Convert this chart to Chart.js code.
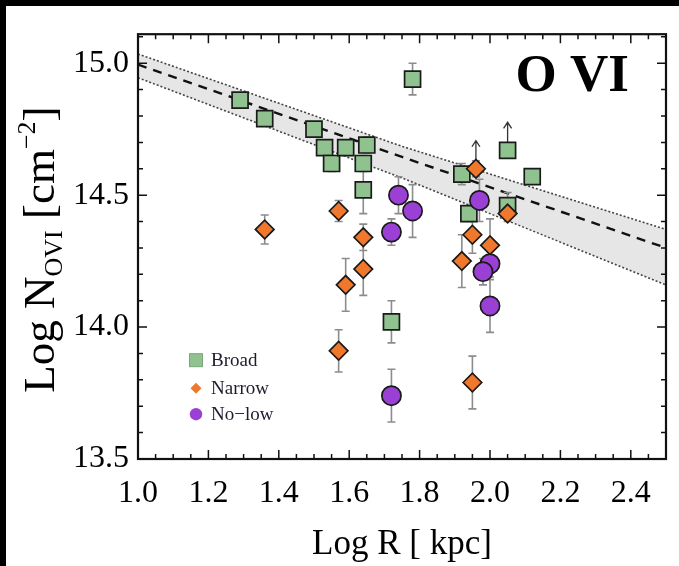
<!DOCTYPE html>
<html>
<head>
<meta charset="utf-8">
<script src="https://cdn.jsdelivr.net/npm/chart.js@4.4.0/dist/chart.umd.min.js"></script>
<style>
  html, body { margin: 0; padding: 0; background: #000; overflow: hidden; }
  #wrap { position: absolute; left: 6px; top: 6px; width: 673px; height: 560px; background: #fff; }
</style>
</head>
<body>
<div id="wrap"><canvas id="ovi" width="673" height="560"></canvas></div>
<script>
// values (Log R in kpc, Log N in cm^-2)
var broadR   = [1.29, 1.36, 1.50, 1.53, 1.55, 1.59, 1.65, 1.64, 1.64, 1.72, 1.78, 1.92, 1.94, 2.05, 2.12, 2.05];
var broadN   = [14.86, 14.79, 14.75, 14.68, 14.62, 14.68, 14.69, 14.62, 14.52, 14.02, 14.94, 14.58, 14.43, 14.67, 14.57, 14.46];
var broadErr = [0.02, 0.02, 0.02, 0.02, 0.03, 0.03, 0.03, 0.03, 0.09, 0.08, 0.06, 0.04, 0.03, 0, 0.02, 0.05];
var broadLim = [false, false, false, false, false, false, false, false, false, false, false, false, false, true, false, false];

var narrowR   = [1.36, 1.57, 1.64, 1.64, 1.59, 1.57, 1.96, 1.95, 1.92, 2.00, 2.05, 1.95];
var narrowN   = [14.37, 14.44, 14.34, 14.22, 14.16, 13.91, 14.60, 14.35, 14.25, 14.31, 14.43, 13.79];
var narrowErr = [0.055, 0.04, 0.05, 0.1, 0.1, 0.08, 0.03, 0.07, 0.1, 0.1, 0.03, 0.1];
var narrowLim = [false, false, false, false, false, false, true, false, false, false, false, false];

var nolowR   = [1.74, 1.78, 1.72, 1.72, 1.97, 2.00, 1.98, 2.00];
var nolowN   = [14.50, 14.44, 14.36, 13.74, 14.48, 14.24, 14.21, 14.08];
var nolowErr = [0.07, 0.1, 0.05, 0.1, 0.08, 0.05, 0.05, 0.1];

// best fit and its band
var fitR   = [1.0, 1.75, 2.5];
var fitN   = [14.995, 14.645, 14.30];
var bandHi = [15.035, 14.685, 14.37];
var bandLo = [14.945, 14.565, 14.16];

var xTicks = [1.0, 1.2, 1.4, 1.6, 1.8, 2.0, 2.2, 2.4];
var yTicks = [13.5, 14.0, 14.5, 15.0];

var legendNames = ['Broad', 'Narrow', 'No\u2212low'];

var green = '#8fc28f', orange = '#f0782d', purple = '#9b40d4';
var serif = '"Liberation Serif", "Times New Roman", serif';

function pts(xs, ys) {
  return xs.map(function (x, i) { return { x: x, y: ys[i] }; });
}

var extras = {
  id: 'extras',
  beforeDatasetDraw: function (chart, args) {
    if (args.index !== 3) return;
    var ctx = chart.ctx, sx = chart.scales.x, sy = chart.scales.y;
    ctx.save();
    ctx.strokeStyle = '#8c8c8c';
    ctx.lineWidth = 1.6;
    [[broadR, broadN, broadErr], [narrowR, narrowN, narrowErr], [nolowR, nolowN, nolowErr]].forEach(function (s) {
      s[0].forEach(function (r, i) {
        if (!s[2][i]) return;
        var px = sx.getPixelForValue(r);
        var y1 = sy.getPixelForValue(s[1][i] - s[2][i]);
        var y2 = sy.getPixelForValue(s[1][i] + s[2][i]);
        ctx.beginPath();
        ctx.moveTo(px, y1); ctx.lineTo(px, y2);
        ctx.moveTo(px - 4, y1); ctx.lineTo(px + 4, y1);
        ctx.moveTo(px - 4, y2); ctx.lineTo(px + 4, y2);
        ctx.stroke();
      });
    });
    // lower limits
    ctx.strokeStyle = '#333';
    ctx.lineWidth = 1.3;
    [[broadR, broadN, broadLim], [narrowR, narrowN, narrowLim]].forEach(function (s) {
      s[0].forEach(function (r, i) {
        if (!s[2][i]) return;
        var px = sx.getPixelForValue(r);
        var py = sy.getPixelForValue(s[1][i]);
        ctx.beginPath();
        ctx.moveTo(px, py); ctx.lineTo(px, py - 28);
        ctx.moveTo(px - 4, py - 22); ctx.lineTo(px, py - 28); ctx.lineTo(px + 4, py - 22);
        ctx.stroke();
      });
    });
    ctx.restore();
  },
  afterDraw: function (chart) {
    var ctx = chart.ctx, a = chart.chartArea, sx = chart.scales.x, sy = chart.scales.y;
    ctx.save();
    // frame with inward ticks on all sides
    ctx.strokeStyle = '#111';
    ctx.lineWidth = 1.5;
    ctx.beginPath();
    for (var k = 0; k <= 30; k++) {
      var px = sx.getPixelForValue(1.0 + k * 0.05);
      var len = (k % 4 === 0) ? 9 : 5;
      ctx.moveTo(px, a.bottom); ctx.lineTo(px, a.bottom - len);
      ctx.moveTo(px, a.top); ctx.lineTo(px, a.top + len);
    }
    for (var j = 0; j <= 16; j++) {
      var py = sy.getPixelForValue(13.5 + j * 0.1);
      var l2 = (j % 5 === 0) ? 9 : 5;
      ctx.moveTo(a.left, py); ctx.lineTo(a.left + l2, py);
      ctx.moveTo(a.right, py); ctx.lineTo(a.right - l2, py);
    }
    ctx.stroke();
    ctx.lineWidth = 2.2;
    ctx.strokeRect(a.left, a.top, a.right - a.left, a.bottom - a.top);

    // ion label
    ctx.fillStyle = '#000';
    ctx.font = 'bold 53px ' + serif;
    ctx.textAlign = 'right';
    ctx.textBaseline = 'alphabetic';
    ctx.fillText('O VI', a.right - 37, a.top + 57);

    // legend
    var lx = a.left + 58, ly = [a.top + 326, a.top + 354, a.top + 380];
    ctx.fillStyle = green;
    ctx.fillRect(lx - 6.5, ly[0] - 6.5, 13, 13);
    ctx.strokeStyle = '#7aa87a'; ctx.lineWidth = 1;
    ctx.strokeRect(lx - 6.5, ly[0] - 6.5, 13, 13);
    ctx.fillStyle = orange;
    ctx.beginPath();
    ctx.moveTo(lx - 5.5, ly[1]); ctx.lineTo(lx, ly[1] - 5.5); ctx.lineTo(lx + 5.5, ly[1]); ctx.lineTo(lx, ly[1] + 5.5);
    ctx.closePath(); ctx.fill();
    ctx.fillStyle = purple;
    ctx.beginPath(); ctx.arc(lx, ly[2], 6.2, 0, Math.PI * 2); ctx.fill();
    ctx.fillStyle = '#1c1c2c';
    ctx.font = '19px "Liberation Serif", serif';
    ctx.textAlign = 'left';
    ctx.textBaseline = 'middle';
    legendNames.forEach(function (t, i) { ctx.fillText(t, lx + 15, ly[i] + 1); });

    // y title with subscript and superscript
    var parts = [
      { t: 'Log N', s: 45, dy: 0 },
      { t: 'OVI', s: 26, dy: 8 },
      { t: ' [cm', s: 45, dy: 0 },
      { t: '\u22122', s: 26, dy: -19 },
      { t: ']', s: 45, dy: 0 }
    ];
    var total = 0;
    parts.forEach(function (p) { ctx.font = p.s + 'px ' + serif; p.w = ctx.measureText(p.t).width; total += p.w; });
    ctx.translate(48, (a.top + a.bottom) / 2 + 3);
    ctx.rotate(-Math.PI / 2);
    ctx.fillStyle = '#000';
    ctx.textAlign = 'left';
    ctx.textBaseline = 'alphabetic';
    var cx = -total / 2;
    parts.forEach(function (p) {
      ctx.font = p.s + 'px ' + serif;
      ctx.fillText(p.t, cx, p.dy);
      cx += p.w;
    });
    ctx.restore();
  }
};

var ctx = document.getElementById('ovi').getContext('2d');
var oviChart = new Chart(ctx, {
  type: 'scatter',
  data: {
    datasets: [
      {
        label: 'band high',
        data: pts(fitR, bandHi),
        showLine: true,
        pointRadius: 0,
        borderColor: '#444',
        borderWidth: 1.6,
        borderDash: [2, 2],
        backgroundColor: '#e6e6e6',
        fill: '+1',
        order: 6
      },
      {
        label: 'band low',
        data: pts(fitR, bandLo),
        showLine: true,
        pointRadius: 0,
        borderColor: '#444',
        borderWidth: 1.6,
        borderDash: [2, 2],
        fill: false,
        order: 5
      },
      {
        label: 'fit',
        data: pts(fitR, fitN),
        showLine: true,
        pointRadius: 0,
        borderColor: '#111',
        borderWidth: 2.4,
        borderDash: [9, 7],
        fill: false,
        order: 4
      },
      {
        label: 'Broad',
        data: pts(broadR, broadN),
        pointStyle: 'rect',
        pointRadius: 11.3,
        backgroundColor: green,
        borderColor: '#1a1a1a',
        borderWidth: 1.7,
        order: 3
      },
      {
        label: 'Narrow',
        data: pts(narrowR, narrowN),
        pointStyle: 'rectRot',
        pointRadius: 9.3,
        backgroundColor: orange,
        borderColor: '#1a1a1a',
        borderWidth: 1.7,
        order: 2
      },
      {
        label: 'No-low',
        data: pts(nolowR, nolowN),
        pointStyle: 'circle',
        pointRadius: 9.6,
        backgroundColor: purple,
        borderColor: '#1a1a1a',
        borderWidth: 1.7,
        order: 1
      }
    ]
  },
  options: {
    responsive: false,
    animation: false,
    layout: { padding: { top: 19, right: 2, left: 0, bottom: 0 } },
    plugins: {
      legend: { display: false },
      tooltip: { enabled: false }
    },
    scales: {
      x: {
        type: 'linear',
        min: 1.0,
        max: 2.5,
        grid: { display: false, drawTicks: false },
        border: { display: false },
        afterFit: function (s) { s.height = 107; },
        afterBuildTicks: function (s) { s.ticks = xTicks.map(function (v) { return { value: v }; }); },
        ticks: {
          padding: 15,
          color: '#000',
          font: { family: serif, size: 32 },
          maxRotation: 0,
          callback: function (v) { return Number(v).toFixed(1); }
        },
        title: {
          display: true,
          text: 'Log R [ kpc]',
          color: '#000',
          font: { family: serif, size: 35 },
          padding: { top: 0, bottom: 0 }
        }
      },
      y: {
        type: 'linear',
        min: 13.5,
        max: 15.11,
        grid: { display: false, drawTicks: false },
        border: { display: false },
        afterFit: function (s) { s.width = 132; },
        afterBuildTicks: function (s) { s.ticks = yTicks.map(function (v) { return { value: v }; }); },
        ticks: {
          padding: 9,
          color: '#000',
          font: { family: serif, size: 32 },
          callback: function (v) { return Number(v).toFixed(1); }
        }
      }
    }
  },
  plugins: [extras]
});
</script>
</body>
</html>
